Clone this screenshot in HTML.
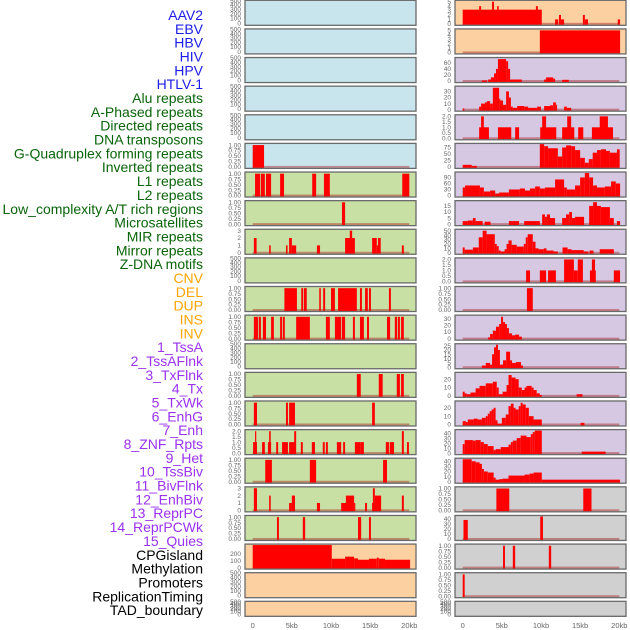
<!DOCTYPE html>
<html><head><meta charset="utf-8"><style>
html,body{margin:0;padding:0;background:#fff;width:630px;height:630px;overflow:hidden}
svg{display:block;font-family:"Liberation Sans",sans-serif}
</style></head><body>
<svg id="chart" width="630" height="630" viewBox="0 0 630 630"></svg>
<script>
const labelNames = ["AAV2","EBV","HBV","HIV","HPV","HTLV-1","Alu repeats","A-Phased repeats","Directed repeats","DNA transposons","G-Quadruplex forming repeats","Inverted repeats","L1 repeats","L2 repeats","Low_complexity A/T rich regions","Microsatellites","MIR repeats","Mirror repeats","Z-DNA motifs","CNV","DEL","DUP","INS","INV","1_TssA","2_TssAFlnk","3_TxFlnk","4_Tx","5_TxWk","6_EnhG","7_Enh","8_ZNF_Rpts","9_Het","10_TssBiv","11_BivFlnk","12_EnhBiv","13_ReprPC","14_ReprPCWk","15_Quies","CPGisland","Methylation","Promoters","ReplicationTiming","TAD_boundary"];
const labelGroups = [6,13,5,15,5];
const groupColors = ["#1c1ce6","#0a640a","#ffa500","#9a32f0","#000000"];
const xTickLabels = ["0","5kb","10kb","15kb","20kb"];
const xTickValues = [0,5,10,15,20];

const T1 = ["1.00","0.75","0.50","0.25","0.00"];
const T2 = ["2.0","1.5","1.0","0.5","0.0"];
const TE = ["500","400","300","200","100","0"];

const L5 = [[0,1.45,1]];
const L6 = [[0.3,0.95,1],[1.05,1.55,1],[1.7,2.35,1],[3.5,4.0,1],[7.6,8.1,1],[9.1,9.85,1],[19.1,20,1]];
const L7 = [[11.4,11.8,1]];
const L8 = [[0.15,0.5,2],[2.1,2.3,1],[4.25,4.45,1],[4.65,5.0,2],[5.0,5.55,1],[8.2,8.6,1],[11.8,13.05,2],[12.4,12.7,3],[15.25,15.85,2],[15.85,16.0,1],[16.0,16.35,2],[19.05,19.3,1]];
const L10 = [[4.05,5.65,1],[6.2,6.45,1],[6.55,6.9,1],[8.5,8.7,1],[9.0,9.25,1],[10.0,10.5,1],[10.9,13.3,1],[13.7,13.95,1],[14.35,14.7,1],[14.85,15.1,1],[17.4,17.65,1]];
const L11 = [[0.15,0.7,1],[0.8,1.05,1],[1.3,1.7,1],[2.35,2.7,1],[3.5,3.75,1],[3.85,4.1,1],[5.55,7.3,1],[9.35,9.85,1],[10.5,11.3,1],[11.4,11.8,1],[12.8,13.05,1],[13.7,14.2,1],[14.6,14.85,1],[17.15,17.55,1],[18.15,18.45,1],[18.55,18.8,1],[18.95,19.3,1]];
const L13 = [[13.3,13.8,1],[16.1,16.6,1],[18.4,18.8,1],[18.95,19.3,1]];
const L14 = [[0.15,0.55,1],[4.25,4.5,1],[4.65,5.4,1],[15.25,15.6,1]];
const L15 = [[0.05,0.55,1],[0.3,0.45,2],[1.2,1.55,1],[1.95,2.35,1],[2.1,2.3,2],[3.0,3.25,1],[3.75,4.5,1],[4.65,5.4,1],[5.3,5.55,2],[6.15,6.4,1],[7.55,7.95,1],[8.95,9.2,1],[9.35,9.6,1],[10.75,11.3,1],[11.55,11.8,1],[13.05,13.8,1],[13.8,14.2,1],[17.0,17.4,1],[17.5,18.05,1],[19.05,19.3,2],[19.7,19.95,1]];
const L16 = [[1.6,2.45,1],[7.3,8.1,1],[16.65,17.15,1]];
const L17 = [[0.15,0.55,3],[2.1,2.3,2],[4.65,5.0,1],[5.0,5.4,2],[8.2,8.6,1],[11.3,11.95,1],[11.9,12.95,2],[12.95,13.05,1],[14.35,14.6,1],[15.25,15.6,1],[15.35,15.6,3],[15.6,16.4,2],[19.05,19.3,2]];
const L18 = [[3.1,3.35,1],[6.4,6.7,1],[13.45,13.85,1],[14.85,15.1,1]];
const L19 = [[0,10.1,330],[10.1,11.8,130],[11.8,12.95,160],[12.95,13.45,135],[13.45,14.85,115],[14.85,15.85,130],[15.85,16.1,145],[16.1,16.9,130],[16.9,20.1,115]];

const R0 = [[0,10.1,3.2],[2.1,2.35,4],[3.75,4.0,5],[4.4,4.6,4],[9.35,9.6,4],[11.8,12.2,1],[12.3,12.55,2],[12.55,12.95,1],[15.35,15.6,2],[15.6,16.0,1],[19.8,20.1,1]];
const R1 = [[9.85,20.1,5]];
const R2 = [[2.45,3.1,2],[3.25,3.6,5],[3.6,4.0,12],[4.0,4.25,25],[4.25,4.5,40],[4.5,5.55,72],[5.55,5.8,65],[5.8,6.05,40],[6.05,7.55,5],[10.4,10.65,5],[10.65,11.55,12],[11.55,11.8,8],[12.7,13.55,4]];
const R3 = [[0,0.2,2],[2.1,2.35,5],[2.35,2.85,10],[2.85,3.1,12],[3.1,3.5,14],[3.5,3.85,10],[3.85,4.65,36],[4.65,4.75,18],[4.75,5.15,15],[5.15,5.55,8],[5.55,5.9,30],[5.9,6.15,20],[6.15,6.4,5],[6.4,6.95,3],[6.95,7.85,6],[7.85,8.35,5],[8.35,9.5,3],[9.5,10.0,5],[10.4,11.15,6],[11.15,11.55,7],[11.55,11.9,12],[11.9,12.05,8],[12.95,13.3,5],[13.3,13.85,3]];
const R4 = [[2.1,3.35,1],[2.35,2.7,2],[4.5,6.2,1],[6.7,7.2,1],[9.9,11.95,1],[10.15,10.65,2],[12.7,14.25,1],[13.35,13.85,2],[14.75,15.4,1],[16.5,19.2,1],[17.5,18.55,2]];
const R5 = [[0,1.15,8],[1.15,1.8,4],[9.85,10.4,88],[10.4,10.9,80],[10.9,12.15,72],[12.15,12.7,40],[12.7,13.2,75],[13.2,13.85,83],[13.85,14.35,80],[14.35,15.0,65],[15.0,15.6,35],[15.6,16.1,16],[16.1,16.6,30],[16.6,17.15,55],[17.15,17.65,65],[17.65,18.3,68],[18.3,18.8,62],[18.8,19.7,55],[19.7,20.05,68]];
const R6edges = [0,0.3,2.2,2.7,3.5,4.15,4.65,5.9,7.3,7.95,8.6,9.25,9.85,10.5,11.8,12.95,13.3,14.35,15.0,15.6,16.15,16.65,17.15,18.15,18.95,19.55,20.1];
const R6vals = [40,50,40,20,25,10,15,30,35,25,35,45,35,40,80,40,30,50,90,112,90,50,40,45,70,60];
const R7 = [[0,0.65,2.5],[0.65,1.3,3],[1.3,1.65,5],[1.65,2.55,2.5],[2.8,3.55,2],[5.9,7.2,2.5],[7.85,9.85,2.5],[10.15,10.5,8],[10.5,10.75,6],[10.75,11.15,8],[11.15,11.8,5],[12.7,13.2,5],[13.2,13.6,8],[13.6,13.95,10],[13.95,14.35,5],[14.35,15.5,6],[16.15,16.65,15],[16.65,17.15,18],[17.15,17.65,15],[17.65,18.8,14],[18.8,19.3,5],[19.7,20.1,2.5]];
const R8edges = [0,0.25,1.3,2.05,2.55,3.05,4.1,4.35,4.6,4.85,5.35,5.6,5.85,6.25,6.9,7.8,8.05,8.3,8.95,9.3,9.7,10.35,10.7,11.6,12.15];
const R8vals = [12,7,12,35,50,42,20,15,5,3,8,20,28,18,14,20,35,42,25,10,8,10,5,3];
const R8extra = [[12.75,13.4,12],[13.4,13.9,8],[13.9,15.45,6],[15.45,16.05,3],[16.2,16.7,5],[17.5,19.3,8]];
const R9 = [[8.1,8.6,1],[9.85,10.65,1],[10.9,11.9,1],[12.95,14.2,2],[14.2,14.7,1],[14.7,15.35,2],[16.25,17.0,1],[16.5,16.9,2],[19.3,20.1,1]];
const R10 = [[8.2,8.95,1]];
const R11edges = [3.25,3.5,3.85,4.25,4.65,4.9,5.15,5.4,5.65,5.9,6.3,6.7,7.2,7.55];
const R11vals = [2,7,12,18,22,33,25,22,16,8,5,6,3];
const R12edges = [2.45,2.95,3.5,3.75,4.0,4.25,4.5,4.75,5.15,5.55,6.05,6.3,6.8,7.45,7.7];
const R12vals = [2,5,3,15,23,26,20,3,8,18,8,5,6,2];
const R13edges = [0,0.25,0.5,1.0,1.65,2.15,2.95,3.85,4.35,4.6,5.1,5.6,5.85,6.25,6.75,7.15,7.55,7.9,8.15,8.8,9.05,9.45,9.85,10.1];
const R13vals = [5,3,2,4,9,12,15,17,10,2,5,13,25,22,20,10,7,10,12,10,7,3,1];
const R13extra = [[14.55,15.3,2]];
const R14edges = [0,0.4,0.65,1.4,1.9,2.45,2.95,3.2,3.45,3.7,3.95,4.2,4.45,5.0,5.5,5.85,6.15,6.5,6.75,7.15,7.4,7.65,8.05,8.45,9.05,10.1];
const R14vals = [4,3,6,7,6,8,10,13,16,18,20,5,1,8,12,22,25,20,18,22,26,24,20,10,6];
const R14extra = [[15.05,15.55,2]];
const R15edges = [0,0.25,1.3,1.65,2.3,2.7,3.2,3.95,4.2,4.85,5.85,6.15,6.4,6.9,7.4,8.15,8.7,8.95,9.2,10.1];
const R15vals = [18,26,25,26,22,18,14,6,8,12,17,22,25,30,35,32,38,42,45];
const R15extra = [[15.2,18.25,3]];
const R16edges = [0,1.15,1.65,2.15,2.45,2.7,3.2,3.95,4.2,4.7,5.1,5.85,7.9,8.55,9.05,10.1,20.1];
const R16vals = [44,40,38,35,25,20,18,8,4,5,6,12,14,16,18,4];
const R17 = [[4.3,5.95,1],[15.4,16.45,1]];
const R18 = [[0.1,0.65,38],[9.9,10.25,45]];
const R19 = [[5.15,5.4,1],[6.4,6.7,1],[11.0,11.3,1]];
const R20 = [[0,0.25,1]];

function hist(edges, vals, extra){
  const out = [];
  for (let i = 0; i < vals.length; i++) out.push([edges[i], edges[i+1], vals[i]]);
  return out.concat(extra || []);
}

const BL="#c8e4ec", GR="#c8e0a4", PE="#fdd0a2", LV="#d6c8e2", GY="#d0d0d0";
const leftPanels = [
 {bg:BL,ymax:520,ticks:TE,data:[]},{bg:BL,ymax:520,ticks:TE,data:[]},{bg:BL,ymax:520,ticks:TE,data:[]},
 {bg:BL,ymax:520,ticks:TE,data:[]},{bg:BL,ymax:520,ticks:TE,data:[]},
 {bg:BL,ymax:1.03,ticks:T1,data:L5},
 {bg:GR,ymax:1.03,ticks:T1,data:L6},{bg:GR,ymax:1.03,ticks:T1,data:L7},
 {bg:GR,ymax:3.05,ticks:["3","2","1","0"],data:L8},
 {bg:GR,ymax:520,ticks:TE,data:[]},
 {bg:GR,ymax:1.03,ticks:T1,data:L10},{bg:GR,ymax:1.03,ticks:T1,data:L11},
 {bg:GR,ymax:520,ticks:TE,data:[]},
 {bg:GR,ymax:1.03,ticks:T1,data:L13},{bg:GR,ymax:1.03,ticks:T1,data:L14},
 {bg:GR,ymax:2.05,ticks:T2,data:L15},{bg:GR,ymax:1.03,ticks:T1,data:L16},
 {bg:GR,ymax:3.05,ticks:["3","2","1","0"],data:L17},{bg:GR,ymax:1.03,ticks:T1,data:L18},
 {bg:PE,ymax:330,ticks:["200","100","0"],data:L19},
 {bg:PE,ymax:520,ticks:TE,data:[]},{bg:PE,ymax:520,ticks:TE,data:[]}
];
const rightPanels = [
 {bg:PE,ymax:5.1,ticks:["5","4","3","2","1","0"],data:R0},
 {bg:PE,ymax:5.1,ticks:["5","4","3","2","1","0"],data:R1},
 {bg:LV,ymax:74,ticks:["60","40","20","0"],data:R2},
 {bg:LV,ymax:37,ticks:["30","20","10","0"],data:R3},
 {bg:LV,ymax:2.05,ticks:T2,data:R4},
 {bg:LV,ymax:87,ticks:["75","50","25","0"],data:R5},
 {bg:LV,ymax:112,ticks:["90","60","30","0"],data:hist(R6edges,R6vals)},
 {bg:LV,ymax:18.5,ticks:["15","10","5","0"],data:R7},
 {bg:LV,ymax:51,ticks:["50","40","30","20","10","0"],data:hist(R8edges,R8vals,R8extra)},
 {bg:LV,ymax:2.05,ticks:T2,data:R9},
 {bg:LV,ymax:1.03,ticks:T1,data:R10},
 {bg:LV,ymax:34,ticks:["30","20","10","0"],data:hist(R11edges,R11vals)},
 {bg:LV,ymax:26,ticks:["25","20","15","10","5","0"],data:hist(R12edges,R12vals)},
 {bg:LV,ymax:27,ticks:["20","10","0"],data:hist(R13edges,R13vals,R13extra)},
 {bg:LV,ymax:27,ticks:["20","10","0"],data:hist(R14edges,R14vals,R14extra)},
 {bg:LV,ymax:45,ticks:["40","30","20","10","0"],data:hist(R15edges,R15vals,R15extra)},
 {bg:LV,ymax:44,ticks:["40","30","20","10","0"],data:hist(R16edges,R16vals)},
 {bg:GY,ymax:1.03,ticks:T1,data:R17},
 {bg:GY,ymax:45,ticks:["40","30","20","10","0"],data:R18},
 {bg:GY,ymax:1.03,ticks:T1,data:R19},
 {bg:GY,ymax:1.03,ticks:T1,data:R20},
 {bg:GY,ymax:520,ticks:TE,data:[]}
];

const NS = "http://www.w3.org/2000/svg";
const svg = document.getElementById('chart');
function mk(tag, attrs, parent){
  const e = document.createElementNS(NS, tag);
  for (const k in attrs) e.setAttribute(k, attrs[k]);
  (parent || svg).appendChild(e);
  return e;
}

let gi = 0, cnt = 0;
labelNames.forEach((nm, i) => {
  if (cnt >= labelGroups[gi]) { gi++; cnt = 0; }
  cnt++;
  const t = mk('text', {x:203, y:(20 + i*13.84).toFixed(1), 'text-anchor':'end', 'font-size':'14', fill:groupColors[gi]});
  t.textContent = nm;
  
  
});

const PW = 171, PITCH = 28.62, KBPX = 7.83;
function drawColumn(panels, left, x0, colName){
  const xs = kb => x0 + kb * KBPX;
  panels.forEach((p, r) => {
    const top = 0.3 + r * PITCH;
    const PH = (r === panels.length - 1) ? 15 : 25;
    const g = mk('g', {});
    
    
    mk('rect', {x:left, y:top, width:PW, height:PH, fill:p.bg}, g);
    const ys = v => top + PH - 1.5 - v / p.ymax * (PH - 2.5);
    if (p.data.length) {
      const bl = mk('rect', {x:xs(0), y:ys(0)-1, width:xs(20)-xs(0), height:2, fill:'rgba(170,30,30,0.45)'}, g);
      
      
    }
    p.data.forEach(d => {
      const xa = Math.max(left + 0.5, xs(d[0])), xb = Math.min(left + PW - 0.5, xs(d[1]));
      const yt = Math.max(top + 0.5, ys(d[2]));
      const b = mk('rect', {x:xa.toFixed(2), y:yt.toFixed(2), width:Math.max(1.2, xb - xa).toFixed(2), height:(ys(0) + 1 - yt).toFixed(2), fill:'#ff0000'}, g);
      
      
    });
    mk('rect', {x:left, y:top, width:PW, height:PH, fill:'none', stroke:'#6a6a6a', 'stroke-width':1.3}, g);
    const n = p.ticks.length;
    p.ticks.forEach((tk, k) => {
      let ty;
      if (p.ticks === TE) {
        ty = top + 2.5 + k * (PH - 3) / (n - 1);
        if (k === n - 1) ty = top + PH;
      } else {
        ty = ys(parseFloat(tk)) + 2.2;
      }
      const t = mk('text', {x:left - 4, y:ty.toFixed(1), 'text-anchor':'end', 'font-size':'6.5', fill:'#666'}, g);
      t.textContent = tk;
      
      
    });
  });
  xTickValues.forEach((v, i) => {
    const t = mk('text', {x:xs(v).toFixed(1), y:628, 'text-anchor':'middle', 'font-size':'7.5', fill:'#666'});
    t.textContent = xTickLabels[i];
    
    
  });
}
drawColumn(leftPanels, 245, 252.7, 'left');
drawColumn(rightPanels, 455, 462.7, 'right');
</script>
</body></html>
